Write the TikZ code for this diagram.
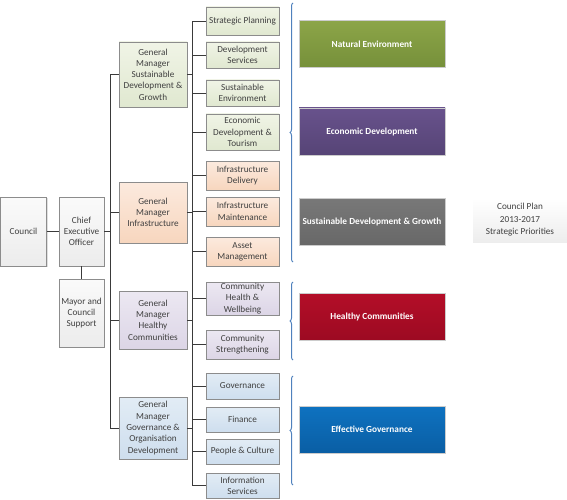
\documentclass[tikz,border=0pt]{standalone}
\usepackage{fontspec}
\setmainfont{Carlito}
\usetikzlibrary{shadows,decorations.pathreplacing}

\definecolor{linegray}{HTML}{3A3A3A}
\definecolor{boxline}{HTML}{8C8C8C}
\definecolor{bracecol}{HTML}{4F81BD}
\definecolor{textgray}{HTML}{404040}

\begin{document}
\begin{tikzpicture}[x=1pt,y=-1pt,
    box/.style={draw=boxline,line width=0.6pt,align=center,inner sep=1pt,
      font=\fontsize{9.2}{11.3}\selectfont,text=textgray,
      drop shadow={opacity=0.25,shadow xshift=1pt,shadow yshift=-1pt}},
    greybox/.style={box,top color={rgb,255:red,250;green,250;blue,250},bottom color={rgb,255:red,236;green,236;blue,236}},
    greenbox/.style={box,top color={rgb,255:red,240;green,244;blue,230},bottom color={rgb,255:red,224;green,232;blue,208}},
    orangebox/.style={box,top color={rgb,255:red,252;green,234;blue,222},bottom color={rgb,255:red,247;green,214;blue,190}},
    purplebox/.style={box,top color={rgb,255:red,236;green,232;blue,242},bottom color={rgb,255:red,220;green,213;blue,230}},
    bluebox/.style={box,top color={rgb,255:red,226;green,236;blue,245},bottom color={rgb,255:red,206;green,222;blue,238}},
    gm/.style={minimum width=68pt},
    dept/.style={minimum width=73pt},
    prio/.style={draw=white!80!black,line width=0.4pt,minimum width=146pt,minimum height=47pt,
      text=white,font=\fontsize{9.3}{11}\selectfont\bfseries,inner sep=1pt,
      drop shadow={opacity=0.2,shadow xshift=1pt,shadow yshift=-1pt}},
    link/.style={draw=linegray,line width=0.8pt},
    bracket/.style={draw=bracecol,line width=1pt,decorate,decoration={brace,amplitude=3pt}}]
  \useasboundingbox (0,0) rectangle (567,500);

  % council and chief executive
  \node[greybox,minimum width=46pt,minimum height=69pt] (council) at (23.5,231.5) {Council};
  \node[greybox,minimum width=45pt,minimum height=69pt] (ceo) at (81.5,231.5) {Chief\\Executive\\Officer};
  \node[greybox,minimum width=45pt,minimum height=68pt] (mayor) at (81.5,313) {Mayor and\\Council\\Support};

  % general managers
  \node[greenbox,gm,minimum height=65pt] (gmsdg) at (153,74.5) {General\\Manager\\Sustainable\\Development \&\\Growth};
  \node[orangebox,gm,minimum height=61pt] (gminf) at (153,212.5) {General\\Manager\\Infrastructure};
  \node[purplebox,gm,minimum height=58pt] (gmhc) at (153,320) {General\\Manager\\Healthy\\Communities};
  \node[bluebox,gm,minimum height=62pt] (gmgov) at (153,428) {General\\Manager\\Governance \&\\Organisation\\Development};

  % departments
  \node[greenbox,dept,minimum height=28pt] (sp) at (242.5,21) {Strategic Planning};
  \node[greenbox,dept,minimum height=26pt] (ds) at (242.5,55) {Development\\Services};
  \node[greenbox,dept,minimum height=26pt] (se) at (242.5,93) {Sustainable\\Environment};
  \node[greenbox,dept,minimum height=36pt] (edt) at (242.5,132) {Economic\\Development \&\\Tourism};
  \node[orangebox,dept,minimum height=29pt] (id) at (242.5,175.5) {Infrastructure\\Delivery};
  \node[orangebox,dept,minimum height=29pt] (im) at (242.5,211.5) {Infrastructure\\Maintenance};
  \node[orangebox,dept,minimum height=29pt] (am) at (242.5,251.5) {Asset\\Management};
  \node[purplebox,dept,minimum height=33pt] (chw) at (242.5,298.5) {Community\\Health \&\\Wellbeing};
  \node[purplebox,dept,minimum height=29pt] (cs) at (242.5,344.5) {Community\\Strengthening};
  \node[bluebox,dept,minimum height=26pt] (gov) at (242.5,386) {Governance};
  \node[bluebox,dept,minimum height=25pt] (fin) at (242.5,419.5) {Finance};
  \node[bluebox,dept,minimum height=25pt] (pc) at (242.5,451.5) {People \& Culture};
  \node[bluebox,dept,minimum height=25pt] (is) at (242.5,485.5) {Information\\Services};

  % connectors
  \coordinate (t1) at (110.5,0);
  \coordinate (t2) at (192,0);
  \draw[link] (council) -- (ceo);
  \draw[link] (ceo) -- (mayor);
  \draw[link] (ceo.east) -- (ceo.east -| t1);
  \draw[link] (gmsdg.west) -| (t1 |- gmgov.west) -- (gmgov.west);
  \foreach \n in {gminf,gmhc}
    \draw[link] (\n.west) -- (\n.west -| t1);
  \draw[link] (sp.west) -| (t2 |- is.west) -- (is.west);
  \foreach \n in {gmsdg,gminf,gmhc,gmgov}
    \draw[link] (\n.east) -- (\n.east -| t2);
  \foreach \n in {ds,se,edt,id,im,am,chw,cs,gov,fin,pc}
    \draw[link] (\n.west) -- (\n.west -| t2);

  % braces
  \draw[bracket] (293,262) -- (293,3);
  \draw[bracket] (293,360) -- (293,282);
  \draw[bracket] (293,485) -- (293,376);

  % strategic priorities
  \node[prio,top color={rgb,255:red,140;green,165;blue,72},bottom color={rgb,255:red,118;green,144;blue,58}] (natenv) at (372,44) {Natural Environment};
  \node[prio,top color={rgb,255:red,104;green,82;blue,140},bottom color={rgb,255:red,86;green,68;blue,118}] (ecodev) at (372,131.5) {Economic Development};
  \node[prio,top color={rgb,255:red,120;green,120;blue,120},bottom color={rgb,255:red,104;green,104;blue,104}] (sdg) at (372,221.5) {Sustainable Development \& Growth};
  \node[prio,top color={rgb,255:red,180;green,14;blue,40},bottom color={rgb,255:red,156;green,10;blue,34}] (hcom) at (372,316.5) {Healthy Communities};
  \node[prio,top color={rgb,255:red,14;green,114;blue,192},bottom color={rgb,255:red,10;green,94;blue,164}] (effgov) at (372,429.5) {Effective Governance};

  \node[top color=white,bottom color=black!7,minimum width=94pt,minimum height=44pt,align=center,
    font=\fontsize{9.2}{12.5}\selectfont,text=textgray,
    drop shadow={opacity=0.15,shadow xshift=1pt,shadow yshift=-1pt}] (plan) at (520,220) {Council Plan\\2013-2017\\Strategic Priorities};
\end{tikzpicture}
\end{document}
